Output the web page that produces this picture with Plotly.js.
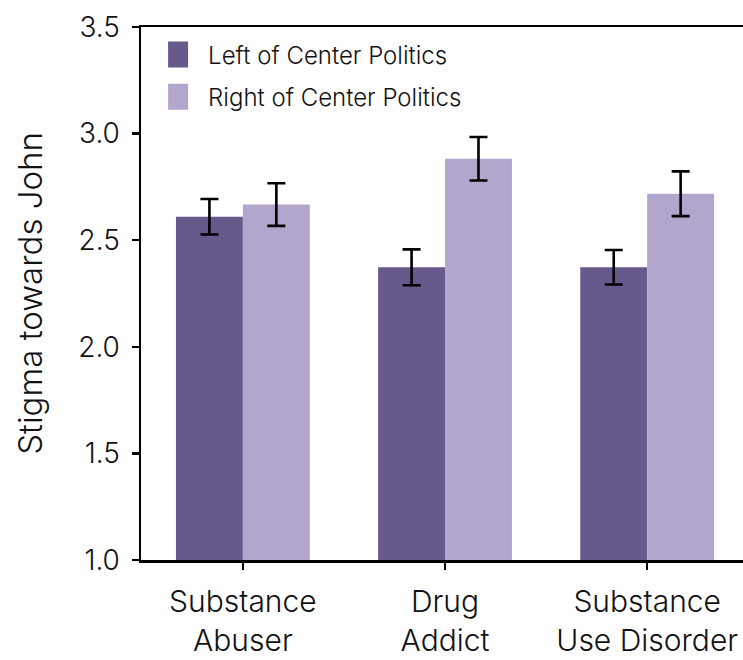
<!DOCTYPE html>
<html><head><meta charset="utf-8">
<script src="https://cdn.plot.ly/plotly-3.0.1.min.js"></script>
<style>html,body{margin:0;padding:0;background:#fff}#chart{width:743px;height:660px}</style>
</head><body><div id="chart"></div>
<script>
const categories = ["Substance<br>Abuser", "Drug<br>Addict", "Substance<br>Use Disorder"];
const seriesNames = ["Left of Center Politics", "Right of Center Politics"];
const leftValues = [2.610, 2.373, 2.373];
const leftErrors = [0.083, 0.084, 0.081];
const rightValues = [2.667, 2.882, 2.718];
const rightErrors = [0.100, 0.102, 0.105];
const yTicks = [1.0, 1.5, 2.0, 2.5, 3.0, 3.5];

const FONT = "Inter, Lato, sans-serif";
const TXT = '#111';
const errStyle = {type: 'data', visible: true, color: '#000', thickness: 2.6, width: 9};

const traces = [
  {type: 'bar', name: seriesNames[0], x: categories, y: leftValues, legendgroup: 'l',
   marker: {color: '#67598c'},
   error_y: Object.assign({array: leftErrors}, errStyle)},
  {type: 'bar', name: seriesNames[1], x: categories, y: rightValues, legendgroup: 'r',
   marker: {color: '#b2a6cc'},
   error_y: Object.assign({array: rightErrors}, errStyle)}
];

const layout = {
  width: 743, height: 660,
  margin: {l: 141, r: 0, t: 27, b: 100},
  paper_bgcolor: '#fff', plot_bgcolor: '#fff',
  font: {family: FONT, color: TXT},
  barmode: 'group', bargap: 0.338, bargroupgap: 0,
  showlegend: true,
  legend: {x: 0.045, y: 0.99, xanchor: 'left', yanchor: 'top',
           font: {size: 24, family: FONT, color: TXT, weight: 300},
           bgcolor: 'rgba(0,0,0,0)', tracegroupgap: 8, traceorder: 'grouped'},
  xaxis: {
    type: 'category', range: [-0.504, 2.474],
    showline: true, linecolor: '#000', linewidth: 2.5, mirror: true,
    ticks: 'outside', ticklen: 7, tickwidth: 2.5, tickcolor: '#000',
    tickfont: {size: 30, family: FONT, color: TXT, weight: 300},
    ticklabelstandoff: 6,
    showgrid: false, zeroline: false
  },
  yaxis: {
    range: [1.0, 3.5], tickvals: yTicks,
    ticktext: yTicks.map(v => v.toFixed(1)),
    showline: true, linecolor: '#000', linewidth: 2.5,
    ticks: 'outside', ticklen: 7, tickwidth: 2.5, tickcolor: '#000',
    tickfont: {size: 28, family: FONT, color: TXT, weight: 300},
    ticklabelstandoff: 6,
    showgrid: false, zeroline: false,
    title: {text: 'Stigma towards John', font: {size: 33, family: FONT, color: TXT, weight: 300}, standoff: 26}
  }
};

Plotly.newPlot('chart', traces, layout, {staticPlot: true, displayModeBar: false}).then(gd => {
  // enlarge legend swatches to match the reference's larger squares
  gd.querySelectorAll('.legend .legendpoints path').forEach(p => {
    p.setAttribute('d', 'M0,13H-33V-13H0Z');
  });
});
</script></body></html>
